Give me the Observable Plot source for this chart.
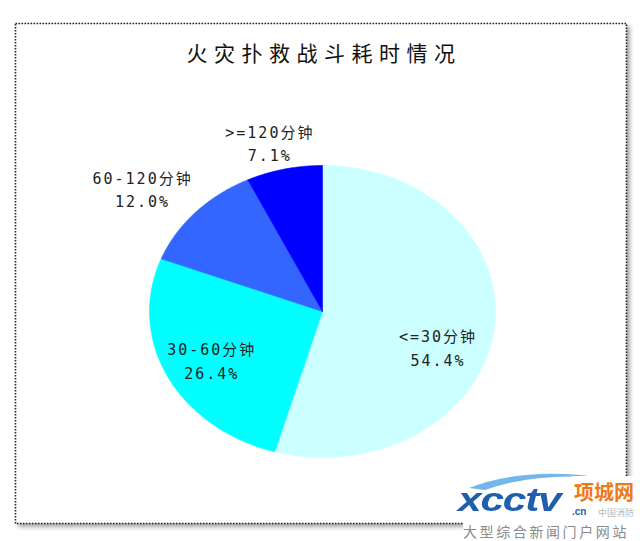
<!DOCTYPE html>
<html><head><meta charset="utf-8">
<script src="https://cdn.jsdelivr.net/npm/d3@7"></script>
<script src="https://cdn.jsdelivr.net/npm/@observablehq/plot@0.6"></script>
<style>
html,body{margin:0;padding:0;background:#fff;}
#wrap{position:relative;width:640px;height:541px;overflow:hidden;background:#fff;}
#wrap svg{display:block;}
.wm{position:absolute;white-space:nowrap;line-height:1;}
</style></head>
<body><div id="wrap"></div>
<script>
// ---- data ----
const title = "火灾扑救战斗耗时情况";
const categories = ["<=30分钟", "30-60分钟", "60-120分钟", ">=120分钟"];
const shares = [54.4, 26.4, 12.0, 7.1];
const colors = ["#CCFFFF", "#00FFFF", "#3366FF", "#0000FF"];

// ---- layout (not data) ----
const labelLayout = [
  {r: 0.71, turn: 11.8},
  {r: 0.72, turn: -0.8},
  {r: 1.34, turn: -3.7},
  {r: 1.20, turn: -1.9}
];

const pie = d3.pie().sort(null).value(d => d)(shares);

// slice outlines in unit (data) space
const slicePts = [];
pie.forEach((p, i) => {
  const cat = categories[i];
  const n = Math.max(2, Math.ceil((p.endAngle - p.startAngle) / (Math.PI / 360)));
  slicePts.push({cat, x: 0, y: 0});
  for (let k = 0; k <= n; k++) {
    const a = p.startAngle + (p.endAngle - p.startAngle) * k / n;
    slicePts.push({cat, x: Math.sin(a), y: Math.cos(a)});
  }
  slicePts.push({cat, x: 0, y: 0});
});

const fmt = d3.format(".1f");
const labelData = pie.map((p, i) => {
  const L = labelLayout[i];
  const a = (p.startAngle + p.endAngle) / 2 + L.turn * Math.PI / 180;
  return {text: categories[i] + "\n" + fmt(shares[i]) + "%", x: L.r * Math.sin(a), y: L.r * Math.cos(a)};
});

const W = 640, H = 541;
const mL = 15, mR = 14, mT = 23, mB = 18;
const cx = 322, cy = 311, rx = 173, ry = 146;

const chart = Plot.plot({
  width: W, height: H,
  marginLeft: mL, marginRight: mR, marginTop: mT, marginBottom: mB,
  x: {domain: [-(cx - mL) / rx, (W - mR - cx) / rx], axis: null},
  y: {domain: [-(H - mB - cy) / ry, (cy - mT) / ry], axis: null},
  color: {domain: categories, range: colors},
  style: {background: "#fff"},
  marks: [
    Plot.frame({fill: "#fff", stroke: "#222", strokeWidth: 1.6, strokeDasharray: "1.6,1.4"}),
    Plot.line(slicePts, {x: "x", y: "y", z: "cat", fill: "cat", stroke: "cat", strokeWidth: 0.6, curve: "linear"}),
    Plot.text(labelData, {
      x: "x", y: "y", text: "text", textAnchor: "middle", lineAnchor: "middle",
      lineHeight: 1.55, fontSize: 15, fill: "#222",
      fontFamily: "'DejaVu Sans Mono', 'Noto Sans CJK SC', monospace"
    }),
    Plot.text([title], {
      frameAnchor: "top", dy: 31, dx: 3, lineAnchor: "middle", fontSize: 21, fill: "#111",
      fontFamily: "'Noto Sans CJK SC', sans-serif"
    })
  ]
});

const fr = chart.querySelector('[aria-label="frame"]');
if (fr) fr.style.filter = "drop-shadow(3px 3px 2px rgba(0,0,0,0.35))";
const textGroups = chart.querySelectorAll('g[aria-label="text"]');
if (textGroups[0]) textGroups[0].setAttribute("letter-spacing", "2px");
if (textGroups[1]) textGroups[1].setAttribute("letter-spacing", "6.5px");

const wrap = document.getElementById("wrap");
wrap.appendChild(chart);

// watermark overlay
const wm = document.createElement("div");
wm.innerHTML = `
<svg class="wm" style="left:455px;top:462px" width="160" height="40">
  <path d="M14 26 Q70 4 150 16 Q80 10 30 28 Z" fill="#5aa9e6" opacity="0.85"/>
</svg>
<div class="wm" style="left:463px;top:519px;width:177px;height:20px;background:#fff;color:#8a8a8a;font:14px 'Noto Sans CJK SC',sans-serif;letter-spacing:2.6px;padding-top:2px;">大型综合新闻门户网站</div>
<div class="wm" style="left:596px;top:506px;color:#b8b8b8;font:9px 'Noto Sans CJK SC',sans-serif;background:#fff;padding:0 2px;">中国消防</div>
<div class="wm" style="left:458px;top:480px;color:#1f5fae;font:italic bold 34px 'Liberation Sans',Arial,sans-serif;transform:scaleX(1.25);transform-origin:left top;letter-spacing:-1px;">xcctv</div>
<div class="wm" style="left:572px;top:506px;color:#1f5fae;font:bold 10px 'Liberation Sans',Arial,sans-serif;">.cn</div>
<div class="wm" style="left:572px;top:476px;background:#fff;color:#f07818;font:bold 20px 'Noto Sans CJK SC',sans-serif;padding:1px 2px;">项城网</div>
`;
while (wm.firstElementChild) wrap.appendChild(wm.firstElementChild);
</script>
</body></html>
